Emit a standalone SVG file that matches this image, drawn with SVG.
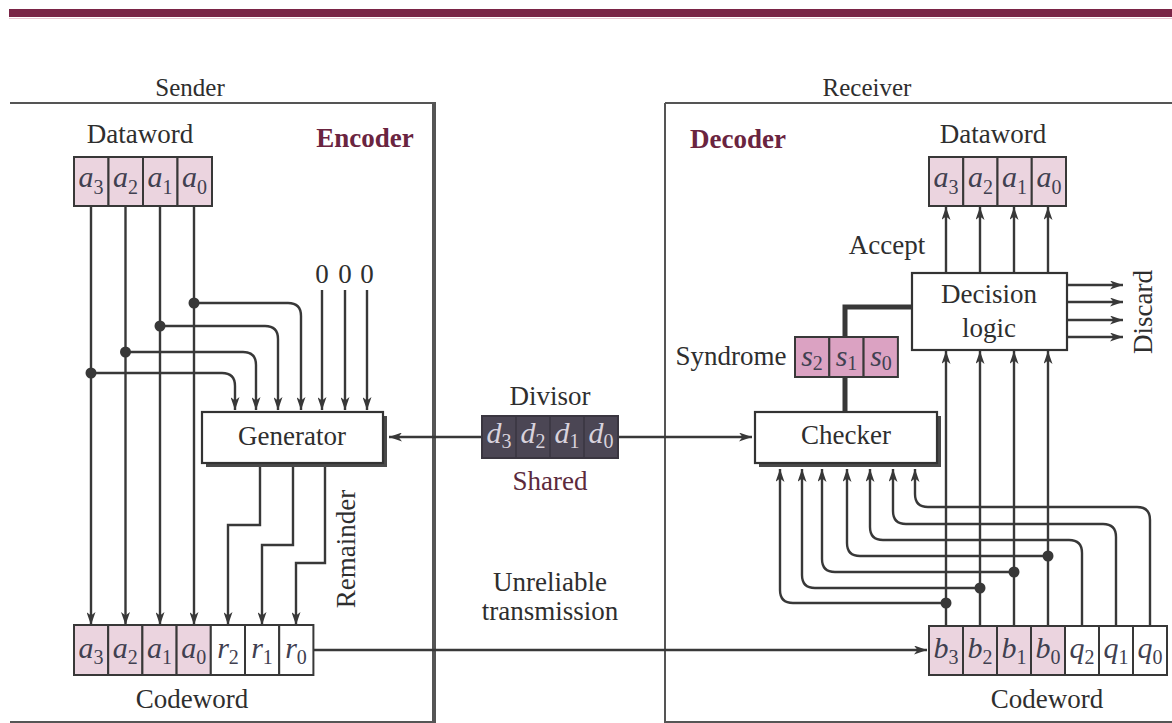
<svg xmlns="http://www.w3.org/2000/svg" width="1172" height="723" viewBox="0 0 1172 723">
<style>
text{font-family:"Liberation Serif","DejaVu Serif",serif;fill:#2e2e2e;font-size:27px;text-anchor:middle}
.hd{font-size:25px}
.lbl{font-weight:bold;font-size:27px;fill:#6a2440}
.v{font-style:italic;font-size:30px;fill:#404050}
.vd{font-style:italic;font-size:30px;fill:#d8d2dc}
.s{font-size:20px;font-style:normal}
.wa{fill:none;stroke:#383838;stroke-width:2.4;marker-end:url(#ah)}
.cell{stroke:#383838;stroke-width:2}
.pk{fill:#ebd4df}
.wt{fill:#fff}
.sy{fill:#dba2c2}
.box{fill:#fff;stroke:#333;stroke-width:2.2}
.sh{fill:#4a4a4a}
.dot{fill:#383838}
.frame{fill:none;stroke:#555;stroke-width:2}
</style>
<defs>
<marker id="ah" viewBox="0 0 13 9" refX="13" refY="4.5" markerWidth="13" markerHeight="9" markerUnits="userSpaceOnUse" orient="auto">
<path d="M0,0 L13,4.5 L0,9 L3.5,4.5 z" fill="#383838"/>
</marker>
</defs>
<rect width="1172" height="723" fill="#fff"/>
<rect x="9" y="9" width="1163" height="8" fill="#7a2446"/>
<line x1="9" y1="18.5" x2="1172" y2="18.5" stroke="#e9c4d2" stroke-width="1"/>

<g id="frames">
<path class="frame" d="M10,103 H434"/>
<path d="M434,102 V723" stroke="#555" stroke-width="4" fill="none"/>
<path class="frame" d="M10,722 H434"/>
<path class="frame" d="M665,103 H1172 M665,103 V723 M665,722 H1172"/>
<text class="hd" x="190" y="96">Sender</text>
<text class="hd" x="867" y="96">Receiver</text>
<text class="lbl" x="365" y="147">Encoder</text>
<text class="lbl" x="738" y="148">Decoder</text>
</g>

<g id="connectors">
<path class="wa" d="M91,206 V625"/>
<path class="wa" d="M125.5,206 V625"/>
<path class="wa" d="M160,206 V625"/>
<path class="wa" d="M194,206 V625"/>
<path class="wa" d="M194,303 H288 Q301,303 301,316 V410"/>
<path class="wa" d="M160,326 H265 Q278,326 278,339 V410"/>
<path class="wa" d="M125.5,352 H243 Q256,352 256,365 V410"/>
<path class="wa" d="M91,373 H222 Q235,373 235,386 V410"/>
<path class="wa" d="M322,290 V410"/>
<path class="wa" d="M345,290 V410"/>
<path class="wa" d="M367,290 V410"/>
<circle class="dot" cx="194" cy="303" r="5.5"/>
<circle class="dot" cx="160" cy="326" r="5.5"/>
<circle class="dot" cx="125.5" cy="352" r="5.5"/>
<circle class="dot" cx="91" cy="373" r="5.5"/>
<path class="wa" d="M260,467 V525 H228 V625"/>
<path class="wa" d="M293,467 V545 H262 V625"/>
<path class="wa" d="M325,467 V563 H296 V625"/>
<path class="wa" d="M482,437 H389"/>
<path class="wa" d="M618,437 H752"/>
<path class="wa" d="M313,650 H927"/>
<path class="wa" d="M946,273 V207"/>
<path class="wa" d="M980,273 V207"/>
<path class="wa" d="M1014,273 V207"/>
<path class="wa" d="M1048,273 V207"/>
<path class="wa" d="M1067,285 H1123"/>
<path class="wa" d="M1067,302 H1123"/>
<path class="wa" d="M1067,320 H1123"/>
<path class="wa" d="M1067,337 H1123"/>
<path d="M845,337 V307 H912 M845,377 V412" fill="none" stroke="#383838" stroke-width="5"/>
<path class="wa" d="M946,626 V351"/>
<path class="wa" d="M980,626 V351"/>
<path class="wa" d="M1014,626 V351"/>
<path class="wa" d="M1048,626 V351"/>
<path class="wa" d="M946,603 H793 Q780,603 780,590 V469"/>
<path class="wa" d="M980,588 H815 Q802,588 802,575 V469"/>
<path class="wa" d="M1014,572 H835 Q822,572 822,559 V469"/>
<path class="wa" d="M1048,556 H860 Q847,556 847,543 V469"/>
<path class="wa" d="M1082,626 V553 Q1082,540 1069,540 H883 Q870,540 870,527 V469"/>
<path class="wa" d="M1116,626 V537 Q1116,524 1103,524 H906 Q893,524 893,511 V469"/>
<path class="wa" d="M1150,626 V520 Q1150,507 1137,507 H928 Q915,507 915,494 V469"/>
<circle class="dot" cx="946" cy="603" r="5.5"/>
<circle class="dot" cx="980" cy="588" r="5.5"/>
<circle class="dot" cx="1014" cy="572" r="5.5"/>
<circle class="dot" cx="1048" cy="556" r="5.5"/>
</g>

<g id="sender-dataword">
<text x="140" y="143">Dataword</text>
<rect class="cell pk" x="74" y="157" width="34.5" height="49"/>
<rect class="cell pk" x="108.5" y="157" width="34.5" height="49"/>
<rect class="cell pk" x="143" y="157" width="34.5" height="49"/>
<rect class="cell pk" x="177.5" y="157" width="34.5" height="49"/>
<text class="v" x="91" y="187">a<tspan class="s" dy="7">3</tspan></text>
<text class="v" x="125.5" y="187">a<tspan class="s" dy="7">2</tspan></text>
<text class="v" x="160" y="187">a<tspan class="s" dy="7">1</tspan></text>
<text class="v" x="194.5" y="187">a<tspan class="s" dy="7">0</tspan></text>
</g>

<g id="zeros">
<text x="322" y="283">0</text>
<text x="345" y="283">0</text>
<text x="367" y="283">0</text>
</g>

<g id="generator">
<rect class="sh" x="206" y="416" width="181" height="51"/>
<rect class="box" x="202" y="412" width="181" height="51"/>
<text x="292" y="445">Generator</text>
</g>

<g id="remainder-label">
<text transform="translate(355,549) rotate(-90)">Remainder</text>
</g>

<g id="sender-codeword">
<rect class="cell pk" x="74" y="625" width="34.2" height="50"/>
<rect class="cell pk" x="108.2" y="625" width="34.2" height="50"/>
<rect class="cell pk" x="142.4" y="625" width="34.2" height="50"/>
<rect class="cell pk" x="176.6" y="625" width="34.2" height="50"/>
<rect class="cell wt" x="210.8" y="625" width="34.2" height="50"/>
<rect class="cell wt" x="245" y="625" width="34.2" height="50"/>
<rect class="cell wt" x="279.2" y="625" width="34.2" height="50"/>
<text class="v" x="91" y="658">a<tspan class="s" dy="6">3</tspan></text>
<text class="v" x="125.3" y="658">a<tspan class="s" dy="6">2</tspan></text>
<text class="v" x="159.5" y="658">a<tspan class="s" dy="6">1</tspan></text>
<text class="v" x="193.7" y="658">a<tspan class="s" dy="6">0</tspan></text>
<text class="v" x="228" y="658">r<tspan class="s" dy="6">2</tspan></text>
<text class="v" x="262" y="658">r<tspan class="s" dy="6">1</tspan></text>
<text class="v" x="296" y="658">r<tspan class="s" dy="6">0</tspan></text>
<text x="192" y="708">Codeword</text>
</g>

<g id="divisor">
<text x="550" y="405">Divisor</text>
<rect x="482" y="416" width="136" height="42" fill="#4b4654" stroke="#3a3640" stroke-width="2"/>
<path d="M516,416 V458 M550,416 V458 M584,416 V458" stroke="#3a3640" stroke-width="1.5"/>
<text class="vd" x="499" y="443">d<tspan class="s" dy="5">3</tspan></text>
<text class="vd" x="533" y="443">d<tspan class="s" dy="5">2</tspan></text>
<text class="vd" x="567" y="443">d<tspan class="s" dy="5">1</tspan></text>
<text class="vd" x="601" y="443">d<tspan class="s" dy="5">0</tspan></text>
<text x="550" y="490" style="fill:#5c2a3c">Shared</text>
</g>

<g id="channel-label">
<text x="550" y="591">Unreliable</text>
<text x="550" y="620">transmission</text>
</g>

<g id="receiver-dataword">
<text x="993" y="143">Dataword</text>
<rect class="cell pk" x="929" y="157" width="34.25" height="49"/>
<rect class="cell pk" x="963.25" y="157" width="34.25" height="49"/>
<rect class="cell pk" x="997.5" y="157" width="34.25" height="49"/>
<rect class="cell pk" x="1031.75" y="157" width="34.25" height="49"/>
<text class="v" x="946" y="187">a<tspan class="s" dy="7">3</tspan></text>
<text class="v" x="980.4" y="187">a<tspan class="s" dy="7">2</tspan></text>
<text class="v" x="1014.6" y="187">a<tspan class="s" dy="7">1</tspan></text>
<text class="v" x="1049" y="187">a<tspan class="s" dy="7">0</tspan></text>
<text x="887" y="254">Accept</text>
</g>

<g id="decision-logic">
<rect class="box" x="912" y="273" width="155" height="77"/>
<text x="989" y="303">Decision</text>
<text x="989" y="337">logic</text>
<text transform="translate(1152,312) rotate(-90)">Discard</text>
</g>

<g id="syndrome">
<text x="731" y="365">Syndrome</text>
<rect class="cell sy" x="795" y="337" width="34.3" height="40"/>
<rect class="cell sy" x="829.3" y="337" width="34.3" height="40"/>
<rect class="cell sy" x="863.6" y="337" width="34.3" height="40"/>
<text class="v" x="812" y="366">s<tspan class="s" dy="4">2</tspan></text>
<text class="v" x="846.5" y="366">s<tspan class="s" dy="4">1</tspan></text>
<text class="v" x="881" y="366">s<tspan class="s" dy="4">0</tspan></text>
</g>

<g id="checker">
<rect class="sh" x="759" y="416" width="182" height="51"/>
<rect class="box" x="755" y="412" width="182" height="51"/>
<text x="846" y="444">Checker</text>
</g>

<g id="receiver-codeword">
<rect class="cell pk" x="929" y="626" width="34" height="49"/>
<rect class="cell pk" x="963" y="626" width="34" height="49"/>
<rect class="cell pk" x="997" y="626" width="34" height="49"/>
<rect class="cell pk" x="1031" y="626" width="34" height="49"/>
<rect class="cell wt" x="1065" y="626" width="34" height="49"/>
<rect class="cell wt" x="1099" y="626" width="34" height="49"/>
<rect class="cell wt" x="1133" y="626" width="34" height="49"/>
<text class="v" x="946" y="658">b<tspan class="s" dy="6">3</tspan></text>
<text class="v" x="980" y="658">b<tspan class="s" dy="6">2</tspan></text>
<text class="v" x="1014" y="658">b<tspan class="s" dy="6">1</tspan></text>
<text class="v" x="1048" y="658">b<tspan class="s" dy="6">0</tspan></text>
<text class="v" x="1082" y="658">q<tspan class="s" dy="6">2</tspan></text>
<text class="v" x="1116" y="658">q<tspan class="s" dy="6">1</tspan></text>
<text class="v" x="1150" y="658">q<tspan class="s" dy="6">0</tspan></text>
<text x="1047" y="708">Codeword</text>
</g>
</svg>
